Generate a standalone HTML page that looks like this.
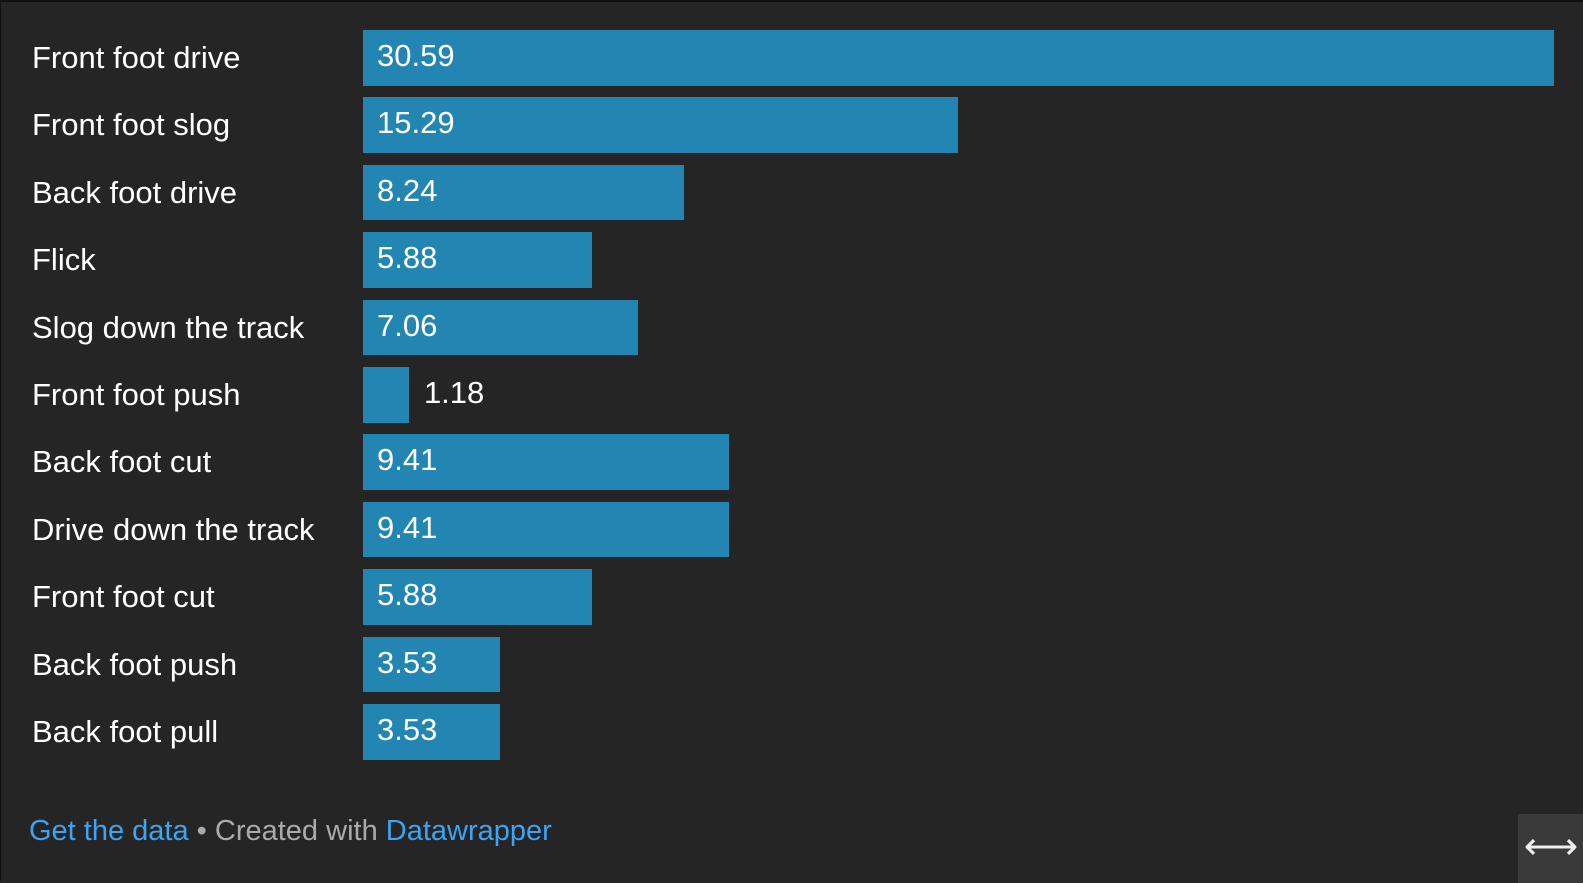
<!DOCTYPE html>
<html><head><meta charset="utf-8"><style>
body{margin:0;background:#252525;width:1583px;height:881px;overflow:hidden;font-family:"Liberation Sans",sans-serif;}
#wrap{position:absolute;left:0;top:0;width:1583px;height:881px;background:#252525;border-top:2px solid #111;border-left:1px solid #111;box-sizing:border-box;}
.lbl{position:absolute;left:31px;color:#fff;font-size:31px;white-space:nowrap;line-height:56px;}
.bar{position:absolute;background:#2385b2;}
.val{position:absolute;color:#fff;font-size:31px;line-height:56px;white-space:nowrap;}
#footer{position:absolute;left:28px;top:813px;font-size:29px;color:#aaa;white-space:nowrap;}
#footer a{color:#3ea3f0;text-decoration:none;}
#icon{position:absolute;left:1517px;top:812px;width:66px;height:69px;background:#3a3a3a;color:#eee;font-size:38px;text-align:center;line-height:66px;}
</style></head><body>
<div id="wrap">
<div id="chart"></div>
<div id="footer"><a href="#">Get the data</a> • Created with <a href="#">Datawrapper</a></div>
<div id="icon">⟷</div>
</div>
<script>
const categories=["Front foot drive","Front foot slog","Back foot drive","Flick","Slog down the track","Front foot push","Back foot cut","Drive down the track","Front foot cut","Back foot push","Back foot pull"];
const values=[30.59,15.29,8.24,5.88,7.06,1.18,9.41,9.41,5.88,3.53,3.53];
const x0=362,xMax=1553,maxV=30.59,top0=28,pitch=67.4,bh=55.5;
function xs(v){return (v/maxV)*(xMax-x0);}
const c=document.getElementById('chart');
categories.forEach((cat,i)=>{
  const y=top0+i*pitch;
  const l=document.createElement('div');l.className='lbl';
  
  
  l.style.top=y+'px';l.textContent=cat;c.appendChild(l);
  const w=xs(values[i]);
  const b=document.createElement('div');b.className='bar';
  
  
  b.style.left=x0+'px';b.style.top=y+'px';b.style.width=w+'px';b.style.height=bh+'px';c.appendChild(b);
  const t=document.createElement('div');t.className='val';
  
  
  const txt=values[i].toFixed(2);t.textContent=txt;
  const inside=w>90;
  t.style.left=(inside?x0+14:x0+w+15)+'px';t.style.top=(y-2)+'px';c.appendChild(t);
});
</script>
</body></html>
